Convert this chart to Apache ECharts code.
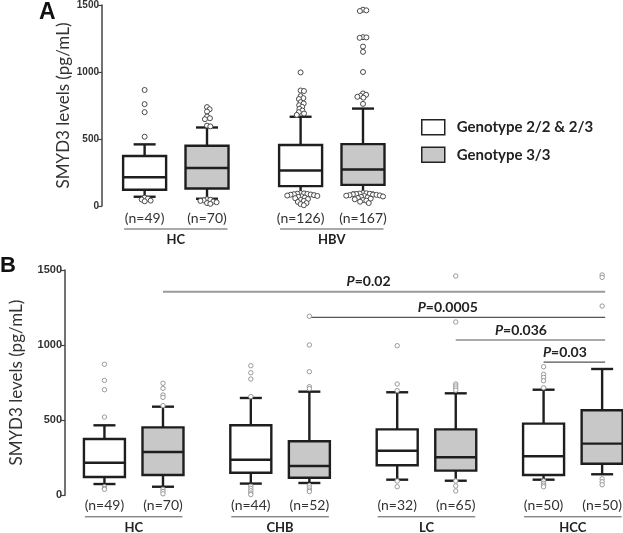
<!DOCTYPE html>
<html><head><meta charset="utf-8">
<script src="https://cdn.jsdelivr.net/npm/echarts@6/dist/echarts.min.js"></script>
<style>html,body{margin:0;padding:0;background:#fff}#c{width:623px;height:533px}</style>
</head><body><div id="c"></div>
<script>
// ================= DATA =================
const yTicks = [0, 500, 1000, 1500];
const genotypes = ['Genotype 2/2 & 2/3', 'Genotype 3/3'];
const yTitle = 'SMYD3 levels (pg/mL)';

// Panel A
const groupsA = ['HC', 'HBV'];
const nA_g1 = [49, 126];
const nA_g2 = [70, 167];
// [lower whisker, Q1, median, Q3, upper whisker]
const boxA_g1 = [[69, 121, 215, 373, 460], [94, 148, 265, 455, 666]];
const boxA_g2 = [[54, 131, 284, 450, 586], [99, 158, 272, 462, 727]];
const outA_g1 = [
  [866, 760, 700, 517, 62, 55, 48, 40, 35],
  [997, 862, 858, 820, 805, 798, 775, 765, 752, 740, 725, 712, 700, 690, 680,
   96, 94, 92, 90, 88, 86, 84, 81, 78, 75, 72, 68, 63, 58, 52, 45, 38, 30, 22, 14, 6]
];
const outA_g2 = [
  [738, 722, 705, 668, 655, 648, 600, 594, 50, 46, 42, 38, 33, 28, 22, 16],
  [1465, 1460, 1455, 1260, 1258, 1255, 1190, 1150, 1000, 840, 830, 822, 815, 808, 762,
   97, 95, 93, 91, 89, 87, 85, 83, 81, 79, 77, 74, 71, 68, 64, 60, 55, 50, 45, 40, 32, 22]
];

// Panel B
const groupsB = ['HC', 'CHB', 'LC', 'HCC'];
const nB_g1 = [49, 44, 32, 50];
const nB_g2 = [70, 52, 65, 50];
const boxB_g1 = [[75, 122, 217, 375, 466], [78, 150, 237, 466, 648], [104, 200, 297, 439, 686], [104, 135, 260, 477, 703]];
const boxB_g2 = [[57, 135, 288, 452, 590], [82, 117, 195, 360, 690], [97, 164, 253, 439, 679], [140, 210, 344, 566, 841]];
const outB_g1 = [
  [872, 765, 703, 521, 57, 45, 40],
  [863, 816, 774, 657, 60, 45, 30, 15, 5],
  [996, 741, 697, 95, 57],
  [856, 805, 785, 763, 716, 95, 80, 68, 57]
];
const outB_g2 = [
  [746, 712, 668, 652, 597, 40, 25, 10],
  [1192, 1001, 823, 723, 710, 65, 50, 35, 25],
  [1460, 1154, 741, 728, 714, 700, 95, 62, 29],
  [1467, 1451, 1260, 110, 90, 70]
];

// Significance brackets (panel B): from box -> HCC genotype 3/3
const sigP = ['0.02', '0.0005', '0.036', '0.03'];
const sigY = [1356, 1185, 1034, 886];
const sigFromGroup = [0, 1, 2, 3];
const sigFromGeno = [1, 1, 1, 0];
const sigToGroup = 3, sigToGeno = 1;

// ================= LAYOUT =================
const GROUP_SLOT = 5, GENO_SLOT = 2;
const slot = (g, k) => g * GROUP_SLOT + k * GENO_SLOT;
const FILL = ['#ffffff', '#c8c8c8'];
const INK = '#1e1e1e';
const SANS = 'Lato';

const cfg = {
  A: { boxW: 43, capW: 22, nOff: 12, lineOff: 23, gOff: 34, outR: 2.5, gap: 3.4, outStroke: '#4a4a4a', swarm: true },
  B: { boxW: 41, capW: 22, nOff: 10.5, lineOff: 21.5, gOff: 32.5, outR: 2.2, gap: 0, outStroke: '#9a9a9a', swarm: false }
};

function boxSeries(name, gridIdx, boxes, ns, geno, c) {
  return {
    type: 'custom', name: name, xAxisIndex: gridIdx, yAxisIndex: gridIdx, clip: false,
    itemStyle: { color: FILL[geno] },
    data: boxes.map((b, g) => [slot(g, geno)].concat(b)),
    renderItem: function (params, api) {
      const x = api.value(0);
      const p = [1, 2, 3, 4, 5].map(i => api.coord([x, api.value(i)]));
      const p0 = api.coord([x, 0]);
      const cx = p[2][0];
      const hw = c.boxW / 2, hc = c.capW / 2;
      const ls = { stroke: INK, lineWidth: 2.4 };
      return {
        type: 'group', children: [
          { type: 'line', shape: { x1: cx, y1: p[4][1], x2: cx, y2: p[3][1] }, style: ls },
          { type: 'line', shape: { x1: cx, y1: p[1][1], x2: cx, y2: p[0][1] }, style: ls },
          { type: 'line', shape: { x1: cx - hc, y1: p[4][1], x2: cx + hc, y2: p[4][1] }, style: ls },
          { type: 'line', shape: { x1: cx - hc, y1: p[0][1], x2: cx + hc, y2: p[0][1] }, style: ls },
          { type: 'rect', shape: { x: cx - hw, y: p[3][1], width: c.boxW, height: p[1][1] - p[3][1] },
            style: { fill: FILL[geno], stroke: INK, lineWidth: 2.4 } },
          { type: 'line', shape: { x1: cx - hw, y1: p[2][1], x2: cx + hw, y2: p[2][1] }, style: ls },
          { type: 'text', x: cx, y: p0[1] + c.nOff,
            style: { text: '(n=' + ns[params.dataIndex] + ')', align: 'center', verticalAlign: 'middle',
                     fontFamily: SANS, fontSize: 14, fill: '#333' } }
        ]
      };
    }
  };
}

function swarm(ys, d) {
  const placed = [];
  const order = ys.map((y, i) => i).sort((a, b) => ys[a] - ys[b]);
  const xs = new Array(ys.length).fill(0);
  order.forEach(i => {
    const y = ys[i];
    const near = placed.filter(q => Math.abs(q.y - y) < d);
    const cands = [0];
    near.forEach(q => {
      const dx = Math.sqrt(d * d - (q.y - y) * (q.y - y));
      cands.push(q.x + dx, q.x - dx);
    });
    cands.sort((a, b) => Math.abs(a) - Math.abs(b));
    let best = 0;
    for (const cx of cands) {
      if (near.every(q => (q.x - cx) * (q.x - cx) + (q.y - y) * (q.y - y) >= d * d - 0.01)) { best = cx; break; }
    }
    xs[i] = best;
    placed.push({ x: best, y: y });
  });
  return xs;
}

function outSeries(name, gridIdx, outs, geno, c) {
  return {
    type: 'custom', name: name, xAxisIndex: gridIdx, yAxisIndex: gridIdx, clip: false,
    itemStyle: { color: FILL[geno] },
    data: outs.map((o, g) => [slot(g, geno)]),
    renderItem: function (params, api) {
      const x = api.value(0);
      const vals = outs[params.dataIndex];
      const pts = vals.map(v => api.coord([x, v]));
      const offs = c.swarm ? swarm(pts.map(p => p[1]), c.gap) : pts.map(() => 0);
      return {
        type: 'group',
        children: pts.map((p, i) => ({
          type: 'circle', shape: { cx: p[0] + offs[i], cy: p[1], r: c.outR },
          style: { fill: '#fff', stroke: c.outStroke, lineWidth: 1 }
        }))
      };
    }
  };
}

function groupSeries(gridIdx, groups, c) {
  return {
    type: 'custom', xAxisIndex: gridIdx, yAxisIndex: gridIdx, clip: false, silent: true,
    data: groups.map((g, i) => [slot(i, 0), slot(i, 1)]),
    renderItem: function (params, api) {
      const a = api.coord([api.value(0), 0]);
      const b = api.coord([api.value(1), 0]);
      const hw = c.boxW / 2;
      return {
        type: 'group', children: [
          { type: 'line', shape: { x1: a[0] - hw + 1, y1: a[1] + c.lineOff, x2: b[0] + hw - 1, y2: a[1] + c.lineOff },
            style: { stroke: '#555', lineWidth: 1 } },
          { type: 'text', x: (a[0] + b[0]) / 2, y: a[1] + c.gOff,
            style: { text: groups[params.dataIndex], align: 'center', verticalAlign: 'middle',
                     fontFamily: SANS, fontWeight: 'bold', fontSize: 13, fill: '#222' } }
        ]
      };
    }
  };
}

const sigSeries = {
  type: 'custom', xAxisIndex: 1, yAxisIndex: 1, clip: false, silent: true,
  data: sigP.map((p, i) => [slot(sigFromGroup[i], sigFromGeno[i]), slot(sigToGroup, sigToGeno), sigY[i]]),
  renderItem: function (params, api) {
    const i = params.dataIndex;
    const a = api.coord([api.value(0), api.value(2)]);
    const b = api.coord([api.value(1), api.value(2)]);
    const main = i === 0;
    return {
      type: 'group', children: [
        { type: 'line', shape: { x1: a[0], y1: a[1], x2: b[0] + 3, y2: a[1] },
          style: { stroke: main ? '#9a9a9a' : '#555', lineWidth: main ? 2 : 1.2 } },
        { type: 'text', x: (a[0] + b[0]) / 2 - (main ? 14 : 8), y: a[1] - 10,
          style: { text: '{i|P}=' + sigP[i], align: 'center', verticalAlign: 'middle',
                   fontFamily: SANS, fontWeight: 'bold', fontSize: 14, fill: '#222',
                   rich: { i: { fontStyle: 'italic', fontWeight: 'bold', fontFamily: SANS, fontSize: 14, fill: '#222' } } } }
      ]
    };
  }
};

function yAxis(gridIdx, gap, labelSize) {
  return {
    type: 'value', gridIndex: gridIdx, min: yTicks[0], max: yTicks[yTicks.length - 1], interval: 500,
    name: yTitle, nameLocation: 'middle', nameGap: gap, nameRotate: 90,
    nameTextStyle: { fontFamily: SANS, fontSize: 17, color: '#333' },
    axisLine: { show: true, onZero: false, lineStyle: { color: '#444', width: 1.5 } },
    axisTick: { show: true, length: 4, lineStyle: { color: '#444', width: 1.2 } },
    axisLabel: { fontFamily: 'Liberation Sans', fontWeight: 'bold', fontSize: labelSize, color: '#333', margin: 3,
                 formatter: v => String(v) },
    splitLine: { show: false }
  };
}

const chart = echarts.init(document.getElementById('c'), null, { renderer: 'canvas' });
chart.setOption({
  animation: false,
  backgroundColor: '#fff',
  title: [
    { text: 'A', left: 39, top: 1, padding: 0, textStyle: { fontFamily: 'Liberation Sans', fontWeight: 'bold', fontSize: 23, color: '#111' } },
    { text: 'B', left: 0, top: 255, padding: 0, textStyle: { fontFamily: 'Liberation Sans', fontWeight: 'bold', fontSize: 22, color: '#111' } }
  ],
  legend: {
    orient: 'vertical', left: 421, top: 119, itemWidth: 23, itemHeight: 15, itemGap: 11, icon: 'rect',
    selectedMode: false, data: genotypes, padding: 0,
    itemStyle: { borderColor: '#222', borderWidth: 1.5 },
    textStyle: { fontFamily: SANS, fontWeight: 'bold', fontSize: 15, color: '#222', padding: [0, 0, 0, 7] }
  },
  grid: [
    { left: 102, top: 4, width: 292.2, height: 202 },
    { left: 54.3, top: 270, width: 565.4, height: 225.3 }
  ],
  xAxis: [
    { type: 'value', gridIndex: 0, min: -1.366, max: 8, show: false },
    { type: 'value', gridIndex: 1, min: -1.347, max: 17.6, show: false }
  ],
  yAxis: [yAxis(0, 30, 10), yAxis(1, 40, 11)],
  series: [
    groupSeries(0, groupsA, cfg.A),
    groupSeries(1, groupsB, cfg.B),
    sigSeries,
    boxSeries(genotypes[0], 0, boxA_g1, nA_g1, 0, cfg.A),
    boxSeries(genotypes[1], 0, boxA_g2, nA_g2, 1, cfg.A),
    outSeries(genotypes[0], 0, outA_g1, 0, cfg.A),
    outSeries(genotypes[1], 0, outA_g2, 1, cfg.A),
    boxSeries(genotypes[0], 1, boxB_g1, nB_g1, 0, cfg.B),
    boxSeries(genotypes[1], 1, boxB_g2, nB_g2, 1, cfg.B),
    outSeries(genotypes[0], 1, outB_g1, 0, cfg.B),
    outSeries(genotypes[1], 1, outB_g2, 1, cfg.B)
  ]
});
</script></body></html>
